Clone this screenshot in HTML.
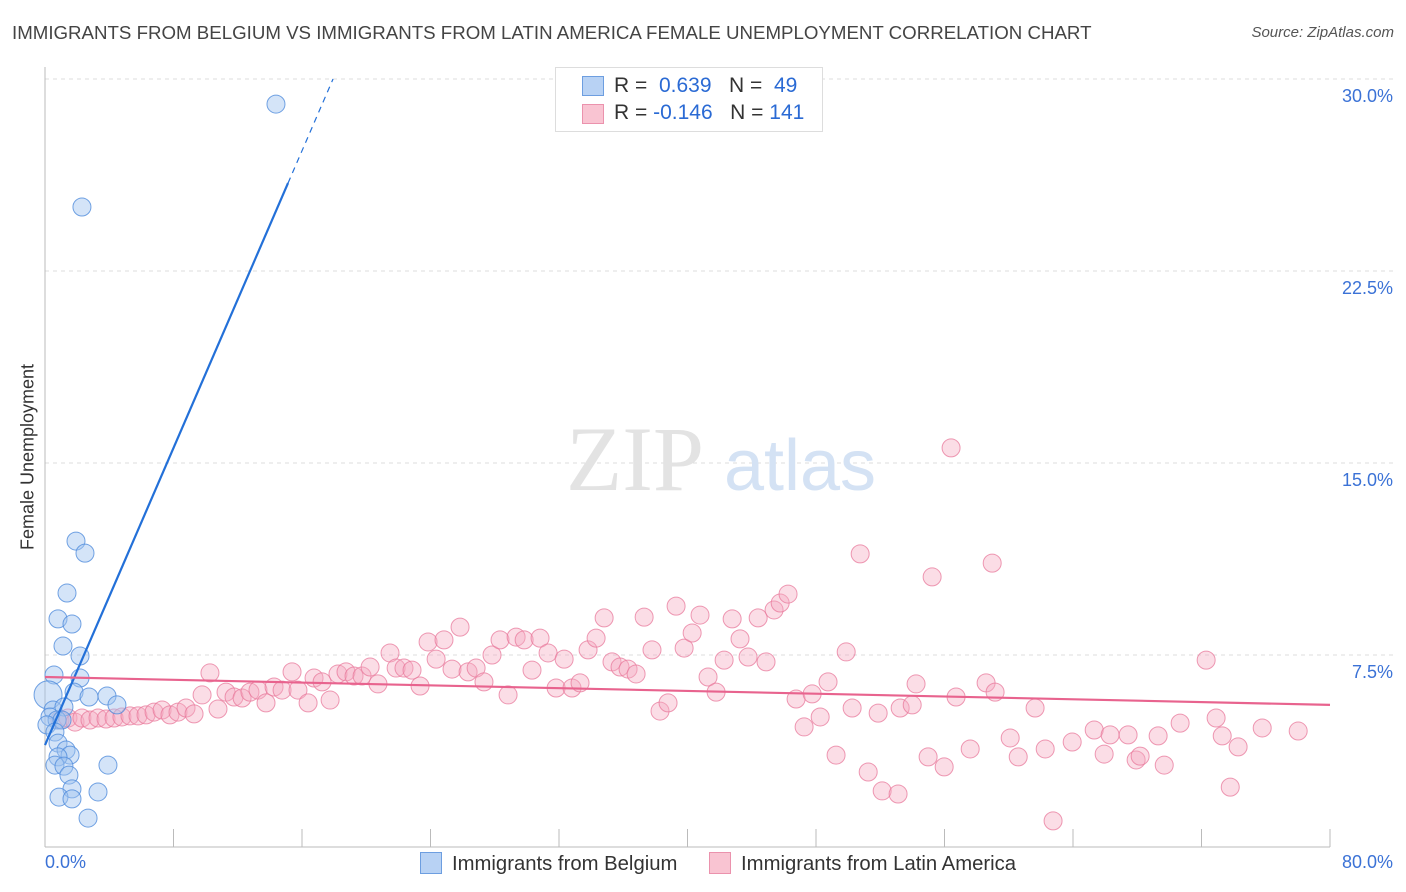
<!DOCTYPE html>
<html><head><meta charset="utf-8"><style>
body{margin:0;background:#fff;font-family:"Liberation Sans",sans-serif;}
#wrap{position:relative;width:1406px;height:892px;overflow:hidden}
</style></head><body>
<div id="wrap">
<svg id="svg" width="1406" height="892" style="position:absolute;left:0;top:0"></svg>
</div>
<script>
const blueX=[14.38,2.30,1.93,2.49,1.37,0.81,1.68,1.12,2.18,0.56,2.18,1.81,2.74,3.86,4.48,0.19,0.5,1.18,0.31,0.75,0.12,1.06,0.62,0.81,1.31,1.56,0.81,0.62,1.18,1.49,3.92,1.68,3.30,0.87,1.68,2.68];
const blueY=[29.02,25.0,11.95,11.48,9.92,8.91,8.71,7.85,7.46,6.72,6.60,6.05,5.86,5.90,5.55,5.94,5.35,5.47,5.08,4.96,4.77,4.96,4.49,4.06,3.79,3.59,3.52,3.20,3.16,2.81,3.20,2.27,2.15,1.95,1.88,1.13];
const pinkX=[0.93,1.43,1.87,2.30,2.80,3.30,3.80,4.30,4.79,5.29,5.79,6.29,6.79,7.29,7.78,8.28,8.78,9.28,10.27,9.78,10.77,11.27,11.77,12.27,12.76,13.26,13.76,14.26,14.76,15.38,15.75,16.38,16.75,17.25,17.75,18.24,18.74,19.24,19.74,20.24,20.73,21.48,21.86,22.35,22.85,23.35,23.85,24.35,24.84,25.34,25.84,26.34,26.84,27.33,27.83,28.33,28.83,29.33,29.83,30.32,30.82,31.32,31.82,32.32,32.81,33.31,33.81,34.31,34.81,35.30,35.80,36.30,36.80,37.30,37.79,38.29,38.79,39.29,39.79,40.29,40.78,41.28,41.78,42.28,42.78,43.27,43.77,44.40,44.89,45.39,45.77,46.26,46.76,47.26,47.76,48.26,48.75,49.25,49.88,50.25,50.75,51.25,51.87,52.12,53.11,53.24,53.99,54.23,54.98,55.23,55.98,56.41,56.72,57.60,58.59,58.97,59.15,60.09,60.59,61.64,62.27,62.76,63.95,65.32,65.94,66.31,67.43,67.93,68.18,69.30,69.68,70.67,72.29,72.91,73.29,73.79,74.28,75.78,78.02];
const pinkY=[4.96,5.04,4.88,5.04,4.96,5.04,5.00,5.04,5.08,5.12,5.12,5.16,5.27,5.35,5.16,5.27,5.43,5.20,6.80,5.94,5.39,6.05,5.86,5.82,6.05,6.13,5.63,6.25,6.13,6.84,6.13,5.63,6.60,6.45,5.74,6.76,6.84,6.68,6.68,7.03,6.37,7.58,6.99,6.99,6.91,6.29,8.01,7.34,8.09,6.95,8.59,6.84,6.99,6.45,7.50,8.09,5.94,8.20,8.09,6.91,8.16,7.58,6.21,7.34,6.21,6.41,7.70,8.16,8.95,7.23,7.03,6.95,6.76,8.98,7.70,5.31,5.63,9.41,7.77,8.36,9.06,6.64,6.05,7.30,8.91,8.13,7.42,8.95,7.23,9.26,9.53,9.88,5.78,4.69,5.98,5.08,6.45,3.59,7.62,5.43,11.45,2.93,5.23,2.19,2.07,5.43,5.55,6.37,3.52,10.55,3.13,15.59,5.86,3.83,6.41,11.09,6.05,4.26,3.52,5.43,3.83,1.02,4.10,4.57,3.63,4.38,4.38,3.40,3.55,4.34,3.20,4.84,7.30,5.04,4.34,2.34,3.91,4.65,4.53];
const yTicks=[7.5,15.0,22.5,30.0];
const blueLine=[3.98,1.451]; // intercept, slope
const pinkLine=[6.64,-0.0136];

const NS="http://www.w3.org/2000/svg";
const svg=document.getElementById('svg');
const X=v=>45+v*16.0625, Y=v=>847-v*25.6;
function mk(t,a,p){const e=document.createElementNS(NS,t);for(const k in a)e.setAttribute(k,a[k]);(p||svg).appendChild(e);return e;}
yTicks.forEach(t=>{
 const g=mk('line',{x1:45,x2:1393,y1:Y(t),y2:Y(t),stroke:'#dcdcdc','stroke-dasharray':'4,4'});
 
 
 const l=mk('text',{x:1393,y:Y(t)+23,'text-anchor':'end',fill:'#3b72d6','font-size':18});
 l.textContent=t.toFixed(1)+'%';
 
 
});
let ax=mk('line',{x1:45,x2:45,y1:67,y2:847,stroke:'#bbb'});

ax=mk('line',{x1:45,x2:1330,y1:847,y2:847,stroke:'#bbb'});

for(let i=1;i<=10;i++){const t=mk('line',{x1:X(i*8),x2:X(i*8),y1:829,y2:847,stroke:'#bbb'});
 }
let w=mk('text',{x:635,y:490,'text-anchor':'middle','font-family':'Liberation Serif,serif','font-size':92,fill:'#e3e3e3'});w.textContent='ZIP';

w=mk('text',{x:800,y:490,'text-anchor':'middle','font-size':72,fill:'#d4e2f4'});w.textContent='atlas';

pinkX.forEach((x,i)=>{const c=mk('circle',{cx:X(x),cy:Y(pinkY[i]),r:9,fill:'rgba(244,170,192,0.4)',stroke:'rgba(232,120,155,0.75)','stroke-width':1});
 });
blueX.forEach((x,i)=>{const c=mk('circle',{cx:X(x),cy:Y(blueY[i]),r:i==15?14:9,fill:'rgba(160,195,240,0.45)',stroke:'rgba(80,140,220,0.8)','stroke-width':1});
 });
let l=mk('line',{x1:X(0),y1:Y(blueLine[0]),x2:X(15.13),y2:Y(blueLine[0]+blueLine[1]*15.13),stroke:'#2370d8','stroke-width':2.2});

const xe=(30-blueLine[0])/blueLine[1];
l=mk('line',{x1:X(15.13),y1:Y(blueLine[0]+blueLine[1]*15.13),x2:X(xe),y2:Y(30),stroke:'#2370d8','stroke-width':1.2,'stroke-dasharray':'6,5'});

l=mk('line',{x1:X(0),y1:Y(pinkLine[0]),x2:X(80),y2:Y(pinkLine[0]+pinkLine[1]*80),stroke:'#e8638e','stroke-width':2.2});

</script>
<div style="position:absolute;left:12px;top:22px;font-size:18.7px;color:#444;white-space:nowrap">IMMIGRANTS FROM BELGIUM VS IMMIGRANTS FROM LATIN AMERICA FEMALE UNEMPLOYMENT CORRELATION CHART</div>
<div style="position:absolute;right:12px;top:24px;font-size:15px;color:#555;font-style:italic">Source: ZipAtlas.com</div>
<div style="position:absolute;left:28px;top:457px;transform:translate(-50%,-50%) rotate(-90deg);font-size:18px;color:#333;white-space:nowrap">Female Unemployment</div>
<div style="position:absolute;left:45px;top:852px;font-size:18px;color:#3b72d6">0.0%</div>
<div style="position:absolute;right:13px;top:852px;font-size:18px;color:#3b72d6">80.0%</div>
<div style="position:absolute;left:555px;top:67px;width:266px;height:63px;border:1px solid #ddd;background:#fff;font-size:21px;color:#333;white-space:nowrap">
 <div style="position:absolute;left:26px;top:8px;width:20px;height:18px;background:#b8d2f4;border:1px solid #6d9ee0"></div>
 <div style="position:absolute;left:58px;top:6px">R = <span style="color:#2a6ad4">&nbsp;0.639</span>&nbsp;&nbsp;&nbsp;N = <span style="color:#2a6ad4">&nbsp;49</span></div>
 <div style="position:absolute;left:26px;top:36px;width:20px;height:18px;background:#f9c4d2;border:1px solid #eb92ad"></div>
 <div style="position:absolute;left:58px;top:33px">R = <span style="color:#2a6ad4">-0.146</span>&nbsp;&nbsp;&nbsp;N = <span style="color:#2a6ad4">141</span></div>
</div>
<div style="position:absolute;left:420px;top:852px;font-size:20.3px;color:#333;white-space:nowrap">
 <span><span style="display:inline-block;width:20px;height:20px;background:#b8d2f4;border:1px solid #6d9ee0;vertical-align:-4px;margin-right:10px"></span>Immigrants from Belgium</span>
 <span style="margin-left:26px"><span style="display:inline-block;width:20px;height:20px;background:#f9c4d2;border:1px solid #eb92ad;vertical-align:-4px;margin-right:10px"></span>Immigrants from Latin America</span>
</div>
</body></html>
